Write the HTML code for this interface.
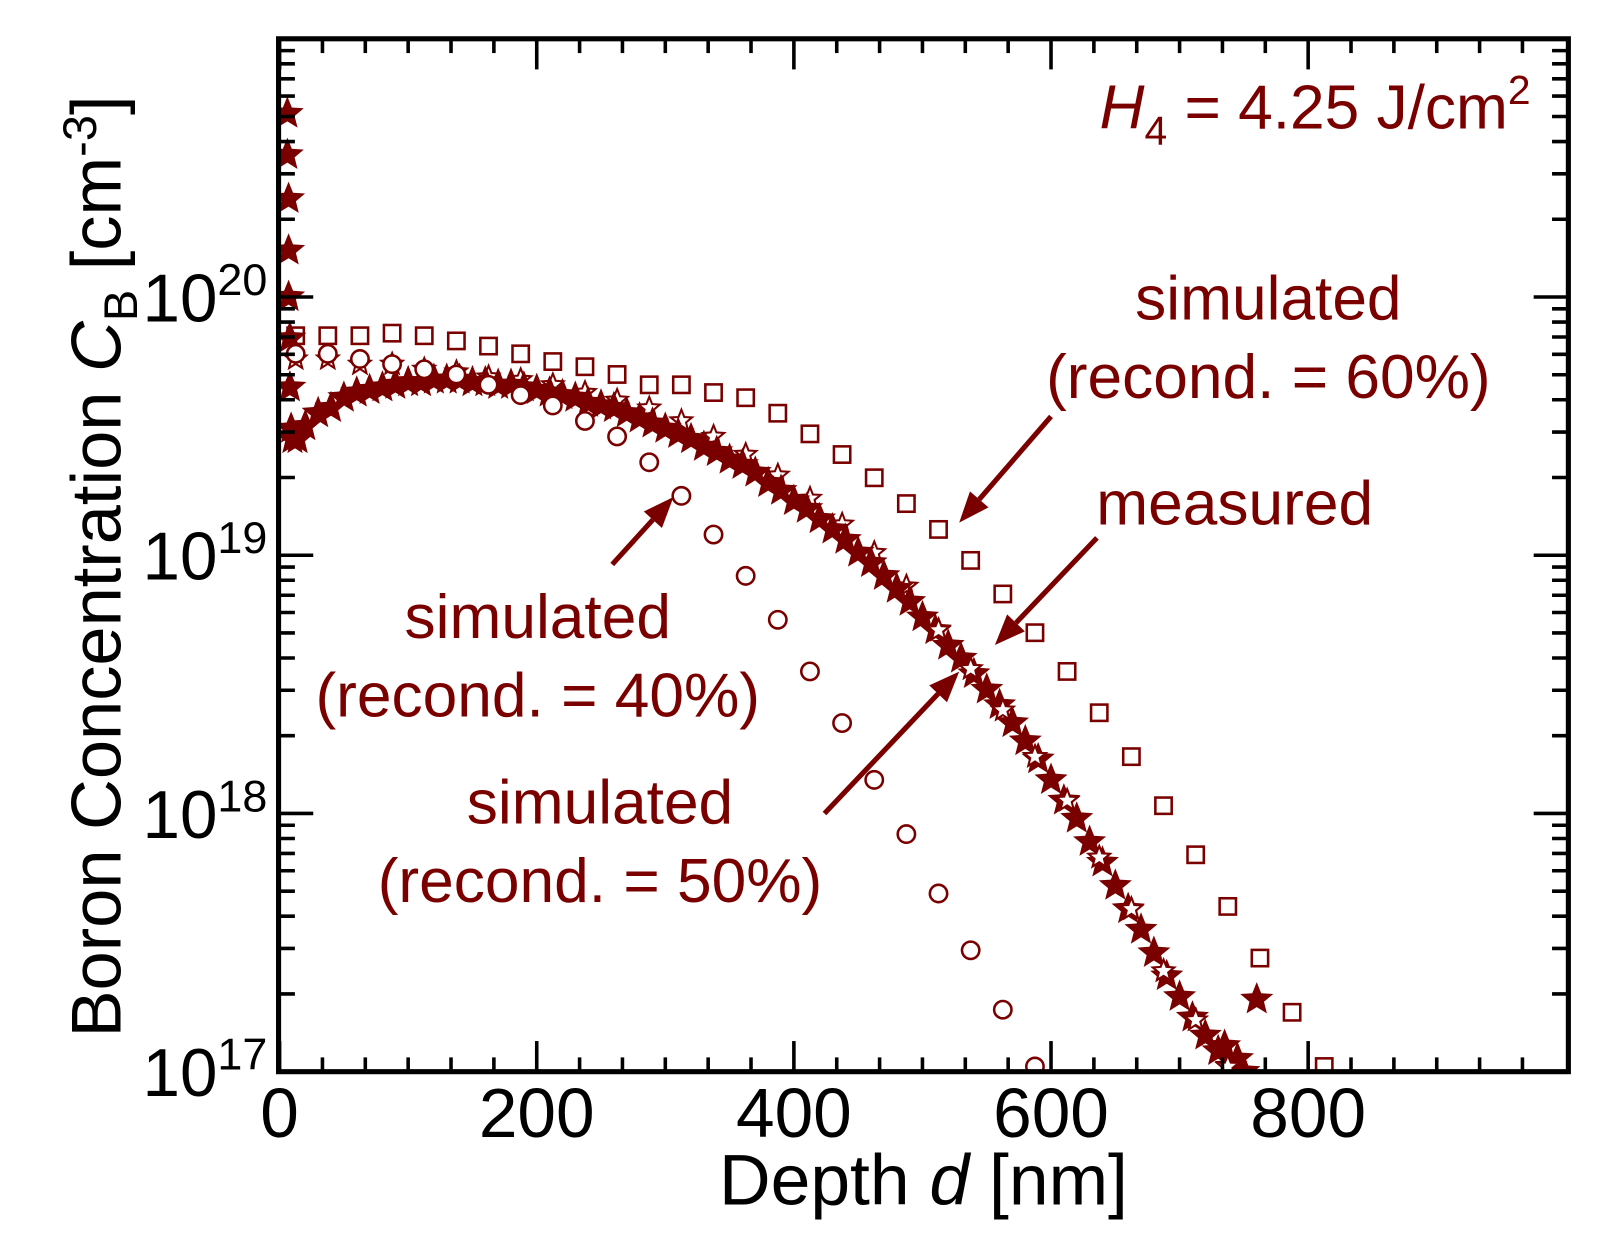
<!DOCTYPE html>
<html><head><meta charset="utf-8"><style>
html,body{margin:0;padding:0;background:#fff;}
svg{display:block;font-family:"Liberation Sans",sans-serif;}
</style></head><body>
<svg id="chart" width="1600" height="1236" viewBox="0 0 1568 1211" preserveAspectRatio="none" xmlns="http://www.w3.org/2000/svg">
<g id="marks"></g>
<g id="axes"></g>
<g fill="#7a0000" font-size="61" text-anchor="middle">
<text x="1500" y="126" text-anchor="end" font-size="61"><tspan font-style="italic">H</tspan><tspan font-size="40" dy="16">4</tspan><tspan dy="-16"> = 4.25 J/cm</tspan><tspan font-size="40" dy="-24">2</tspan></text>
<text x="1243" y="313">simulated</text>
<text x="1243" y="390">(recond. = 60%)</text>
<text x="1210" y="514">measured</text>
<text x="527" y="625">simulated</text>
<text x="527" y="702">(recond. = 40%)</text>
<text x="588" y="807">simulated</text>
<text x="588" y="884">(recond. = 50%)</text>
</g>
<g id="arrows"></g>
<text x="905" y="1180" font-size="70" text-anchor="middle">Depth <tspan font-style="italic">d</tspan> [nm]</text>
<text transform="translate(118,555) rotate(-90)" font-size="69" text-anchor="middle">Boron Concentration <tspan font-style="italic">C</tspan><tspan font-size="46" dy="16">B</tspan><tspan dy="-16"> [cm</tspan><tspan font-size="46" dy="-24">-3</tspan><tspan dy="24">]</tspan></text>
</svg>
<script>
const sim60Depth=[12.5,37.5,62.5,87.5,112.5,137.5,162.5,187.5,212.5,237.5,262.5,287.5,312.5,337.5,362.5,387.5,412.5,437.5,462.5,487.5,512.5,537.5,562.5,587.5,612.5,637.5,662.5,687.5,712.5,737.5,762.5,787.5,812.5];
const sim60Log=[19.85,19.85,19.85,19.86,19.85,19.83,19.81,19.78,19.75,19.73,19.70,19.66,19.66,19.63,19.61,19.55,19.47,19.39,19.30,19.20,19.10,18.98,18.85,18.70,18.55,18.39,18.22,18.03,17.84,17.64,17.44,17.23,17.02];
const sim40Depth=[12.5,37.5,62.5,87.5,112.5,137.5,162.5,187.5,212.5,237.5,262.5,287.5,312.5,337.5,362.5,387.5,412.5,437.5,462.5,487.5,512.5,537.5,562.5,587.5];
const sim40Log=[19.78,19.78,19.76,19.74,19.72,19.70,19.66,19.62,19.58,19.52,19.46,19.36,19.23,19.08,18.92,18.75,18.55,18.35,18.13,17.92,17.69,17.47,17.24,17.02];
const sim50Depth=[12.5,37.5,62.5,87.5,112.5,137.5,162.5,187.5,212.5,237.5,262.5,287.5,312.5,337.5,362.5,387.5,412.5,437.5,462.5,487.5,512.5,537.5,562.5,587.5,612.5,637.5,662.5,687.5,712.5,737.5];
const sim50Log=[19.76,19.76,19.74,19.74,19.72,19.71,19.69,19.68,19.66,19.63,19.60,19.57,19.52,19.46,19.39,19.31,19.22,19.12,19.01,18.88,18.71,18.56,18.40,18.22,18.05,17.83,17.63,17.39,17.20,17.02];
const measDepth=[6,6,7,7,7,8,8,9,10,14,20,30,40,50,60,70,80,90,100,110,120,130,140,150,160,170,180,190,200,210,220,230,240,250,260,270,280,290,300,310,320,330,340,350,360,370,380,390,400,410,420,430,440,450,460,470,480,490,500,510,520,530,540,550,560,570,580,590,600,610,620,630,640,650,660,670,680,690,700,710,720,730,735,740,745,750,760];
const measLog=[20.71,20.55,20.38,20.18,20.00,19.84,19.65,19.49,19.45,19.45,19.50,19.55,19.57,19.61,19.63,19.64,19.65,19.66,19.67,19.67,19.68,19.68,19.68,19.67,19.67,19.66,19.66,19.65,19.64,19.63,19.62,19.61,19.59,19.58,19.57,19.55,19.53,19.51,19.49,19.47,19.45,19.42,19.40,19.37,19.35,19.32,19.28,19.25,19.21,19.18,19.14,19.10,19.06,19.01,18.97,18.92,18.87,18.82,18.76,18.71,18.65,18.60,18.54,18.48,18.42,18.35,18.28,18.21,18.13,18.05,17.98,17.89,17.81,17.72,17.63,17.55,17.46,17.37,17.29,17.21,17.14,17.08,17.10,17.02,17.05,17.00,17.28];
const xTicks=[0,200,400,600,800];
const yTicks=[17,18,19,20];

const NS="http://www.w3.org/2000/svg";
const L=273,R=1537,T=38,B=1050;
const X0=274,XS=1.26;
function xS(d){return X0+d*XS;}
function yS(lg){return B-(lg-17)*253;}
const C="#7a0000";
function mk(tag,attrs,parent){const e=document.createElementNS(NS,tag);for(const k in attrs)e.setAttribute(k,attrs[k]);parent.appendChild(e);return e;}
const marks=document.getElementById('marks');
const axes=document.getElementById('axes');
const arrows=document.getElementById('arrows');
function starPts(cx,cy,ro,ri){let p=[];for(let i=0;i<10;i++){const r=i%2?ri:ro;const a=-Math.PI/2+i*Math.PI/5;p.push((cx+r*Math.cos(a)).toFixed(1)+','+(cy+r*Math.sin(a)).toFixed(1));}return p.join(' ');}
// sim 50 open stars (under measured)
const g5=mk('g',{},marks);


sim50Depth.forEach((d,i)=>{const s=mk('polygon',{points:starPts(xS(d),yS(sim50Log[i]),11,4.8),fill:'#fff',stroke:C,'stroke-width':2},g5);

});
// measured filled stars
const gm=mk('g',{},marks);


measDepth.forEach((d,i)=>{const s=mk('polygon',{points:starPts(xS(d),yS(measLog[i]),17,7.5),fill:C},gm);

});
// sim 50 open stars visible on top in lower part
const g5b=mk('g',{},marks);


sim50Depth.forEach((d,i)=>{if(d<500)return;const s=mk('polygon',{points:starPts(xS(d),yS(sim50Log[i]),11,4.8),fill:'#fff',stroke:C,'stroke-width':2},g5b);

});
// sim 40 circles
const g4=mk('g',{},marks);


sim40Depth.forEach((d,i)=>{const s=mk('circle',{cx:xS(d),cy:yS(sim40Log[i]),r:8.5,fill:'#fff',stroke:C,'stroke-width':2.5},g4);

});
// sim 60 squares
const g6=mk('g',{},marks);


sim60Depth.forEach((d,i)=>{const s=mk('rect',{x:xS(d)-8,y:yS(sim60Log[i])-8,width:16,height:16,fill:'none',stroke:C,'stroke-width':2.5},g6);

});
mk('rect',{x:0,y:B+2,width:1568,height:200,fill:'#fff'},marks);
mk('rect',{x:R+2,y:0,width:60,height:1211,fill:'#fff'},marks);
mk('rect',{x:0,y:0,width:L-2,height:1211,fill:'#fff'},marks);
// frame
const fr=mk('rect',{x:L,y:T,width:R-L,height:B-T,fill:'none',stroke:'#000','stroke-width':5},axes);


for(let v=0;v<=1000;v+=100/3){const x=xS(v);if(x>R-2)break;const maj=Math.abs(v/200-Math.round(v/200))<0.01;const len=maj?30:14;
mk('line',{x1:x,y1:B,x2:x,y2:B-len,stroke:'#000','stroke-width':3.5},axes);
mk('line',{x1:x,y1:T,x2:x,y2:T+len,stroke:'#000','stroke-width':3.5},axes);}
xTicks.forEach(v=>{const t=mk('text',{x:xS(v),y:1114,'font-size':68,'text-anchor':'middle'},axes);t.textContent=v;

});
for(let dec=17;dec<21;dec++){for(let m=1;m<10;m++){const lg=dec+Math.log10(m);const y=yS(lg);if(y<T+2)continue;const len=m===1?34:16;
mk('line',{x1:L,y1:y,x2:L+len,y2:y,stroke:'#000','stroke-width':3.5},axes);
mk('line',{x1:R,y1:y,x2:R-len,y2:y,stroke:'#000','stroke-width':3.5},axes);}}
yTicks.forEach(v=>{const t=mk('text',{x:262,y:yS(v)+24,'font-size':66,'text-anchor':'end'},axes);


const a=mk('tspan',{},t);a.textContent='10';const b=mk('tspan',{'font-size':44,dy:-26},t);b.textContent=String(v);});
const arrowDefs=[[1030,408,940,512,'arrow-sim60'],[1075,527,975,632,'arrow-measured'],[600,553,660,487,'arrow-sim40'],[808,797,940,658,'arrow-sim50']];
arrowDefs.forEach(a=>{const [x1,y1,x2,y2,n]=a;const g=mk('g',{},arrows);


const ang=Math.atan2(y2-y1,x2-x1);const hl=30,hw=12;const bx=x2-hl*Math.cos(ang),by=y2-hl*Math.sin(ang);
mk('line',{x1:x1,y1:y1,x2:bx,y2:by,stroke:C,'stroke-width':5},g);
const px=-Math.sin(ang),py=Math.cos(ang);
mk('polygon',{points:`${x2},${y2} ${bx+hw*px},${by+hw*py} ${bx-hw*px},${by-hw*py}`,fill:C},g);});
</script>
</body></html>
